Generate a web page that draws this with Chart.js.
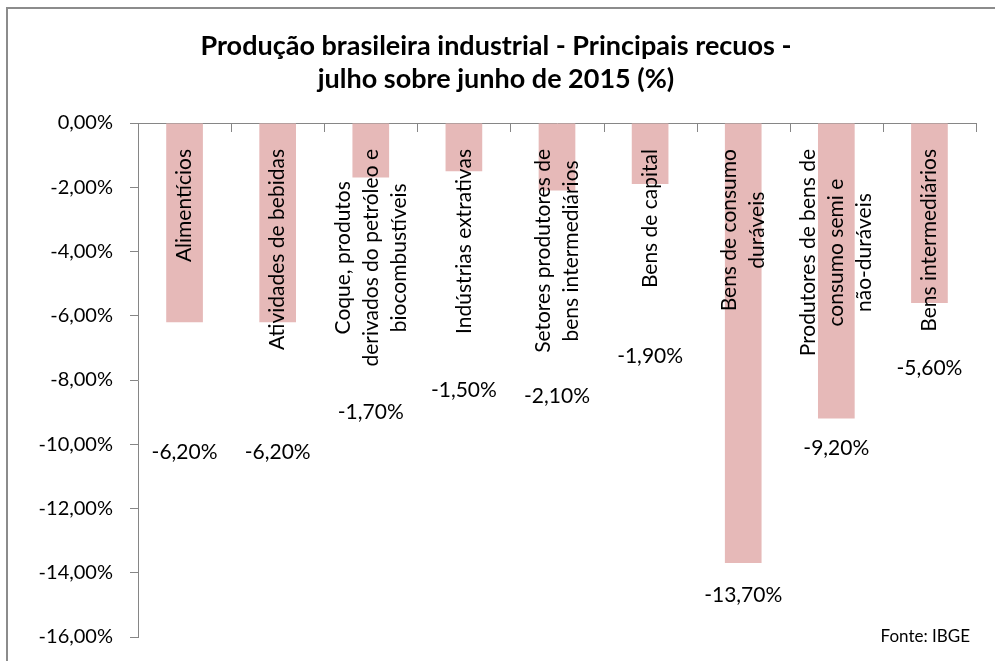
<!DOCTYPE html>
<html>
<head>
<meta charset="utf-8">
<script src="https://cdn.jsdelivr.net/npm/chart.js@4"></script>
<style>
  body { margin: 0; background: #fff; }
  #grafico { display: block; }
</style>
</head>
<body>
<canvas id="grafico" width="995" height="661"></canvas>
<script>
var setores = [
	['Alimentícios'],
	['Atividades de bebidas'],
	['Coque, produtos', 'derivados do petróleo e', 'biocombustíveis'],
	['Indústrias extrativas'],
	['Setores produtores de', 'bens intermediários'],
	['Bens de capital'],
	['Bens de consumo', 'duráveis'],
	['Produtores de bens de', 'consumo semi e', 'não-duráveis'],
	['Bens intermediários']
];
var recuos = [-6.2, -6.2, -1.7, -1.5, -2.1, -1.9, -13.7, -9.2, -5.6];
var titulo = ['Produção brasileira industrial - Principais recuos -', 'julho sobre junho de 2015 (%)'];
var fonte = 'Fonte: IBGE';

// where the value labels were left in the original sheet (in axis units)
var posRotulo = [-10.26, -10.26, -8.99, -8.31, -8.5, -7.25, -14.69, -10.12, -7.63];

var cinza = '#868686';
var fam = 'Lato, "Open Sans", sans-serif';

function pct(v) {
	return v.toFixed(2).replace('.', ',') + '%';
}

var desenhos = {
	id: 'desenhos',
	beforeDraw: function(chart) {
		var ctx = chart.ctx;
		ctx.save();
		ctx.fillStyle = '#fff';
		ctx.fillRect(0, 0, chart.width, chart.height);
		ctx.strokeStyle = '#8c8c8c';
		ctx.lineWidth = 2;
		ctx.strokeRect(7, 8, chart.width + 20, chart.height + 20);
		// title
		ctx.fillStyle = '#000';
		ctx.font = 'bold 27px ' + fam;
		ctx.textAlign = 'center';
		ctx.textBaseline = 'middle';
		ctx.fillText(titulo[0], 496, 46);
		ctx.fillText(titulo[1], 496, 79);
		ctx.restore();
	},
	afterDatasetsDraw: function(chart) {
		var ctx = chart.ctx;
		var x = chart.scales.x, y = chart.scales.y;
		var area = chart.chartArea;
		ctx.save();
		// category tick marks, pointing down from the zero line
		ctx.strokeStyle = cinza;
		ctx.lineWidth = 1;
		for (var i = 0; i <= setores.length; i++) {
			var px = Math.round(x.getPixelForValue(i - 0.5)) + 0.5;
			ctx.beginPath();
			ctx.moveTo(px, area.top);
			ctx.lineTo(px, area.top + 9);
			ctx.stroke();
		}
		ctx.fillStyle = '#000';
		ctx.font = '21px ' + fam;
		ctx.textAlign = 'center';
		ctx.textBaseline = 'middle';
		var alt = 28;
		for (var i = 0; i < setores.length; i++) {
			var cx = x.getPixelForValue(i);
			var linhas = setores[i];
			var larg = 0;
			linhas.forEach(function(l) { larg = Math.max(larg, ctx.measureText(l).width); });
			var cy = area.top + 26 + larg / 2;
			ctx.save();
			ctx.translate(cx, cy);
			ctx.rotate(-Math.PI / 2);
			for (var j = 0; j < linhas.length; j++) {
				ctx.fillText(linhas[j], 0, (j - (linhas.length - 1) / 2) * alt);
			}
			ctx.restore();
			// value label
			ctx.fillText(pct(recuos[i]), cx, y.getPixelForValue(posRotulo[i]));
		}
		ctx.font = '17px ' + fam;
		ctx.textAlign = 'right';
		ctx.fillText(fonte, 970, 637);
		ctx.restore();
	}
};

var ctx = document.getElementById('grafico');

var grafico = new Chart(ctx, {
	type: 'bar',
	data: {
		labels: setores,
		datasets: [{
			label: 'Recuo',
			data: recuos,
			backgroundColor: '#E6B9B8',
			borderWidth: 0,
			categoryPercentage: 1,
			barPercentage: 0.394
		}]
	},
	options: {
		responsive: false,
		animation: false,
		layout: { padding: { top: 123, right: 19, bottom: 24, left: 0 } },
		plugins: {
			legend: { display: false },
			title: { display: false },
			tooltip: { enabled: false }
		},
		scales: {
			x: {
				position: 'top',
				offset: true,
				ticks: { display: false },
				grid: { display: false },
				border: { display: true, color: cinza, width: 1 },
				afterFit: function(s) { s.height = 0; }
			},
			y: {
				min: -16,
				max: 0,
				ticks: {
					stepSize: 2,
					padding: 17,
					color: '#000',
					font: { family: fam, size: 20 },
					callback: function(v) { return pct(v); }
				},
				grid: { display: true, drawOnChartArea: false, tickLength: 8, color: cinza },
				border: { display: true, color: cinza, width: 1 },
				afterFit: function(s) {
					s.width = 138;
					s.paddingTop = 0;
					s.paddingBottom = 0;
				}
			}
		}
	},
	plugins: [desenhos]
});
</script>
</body>
</html>
